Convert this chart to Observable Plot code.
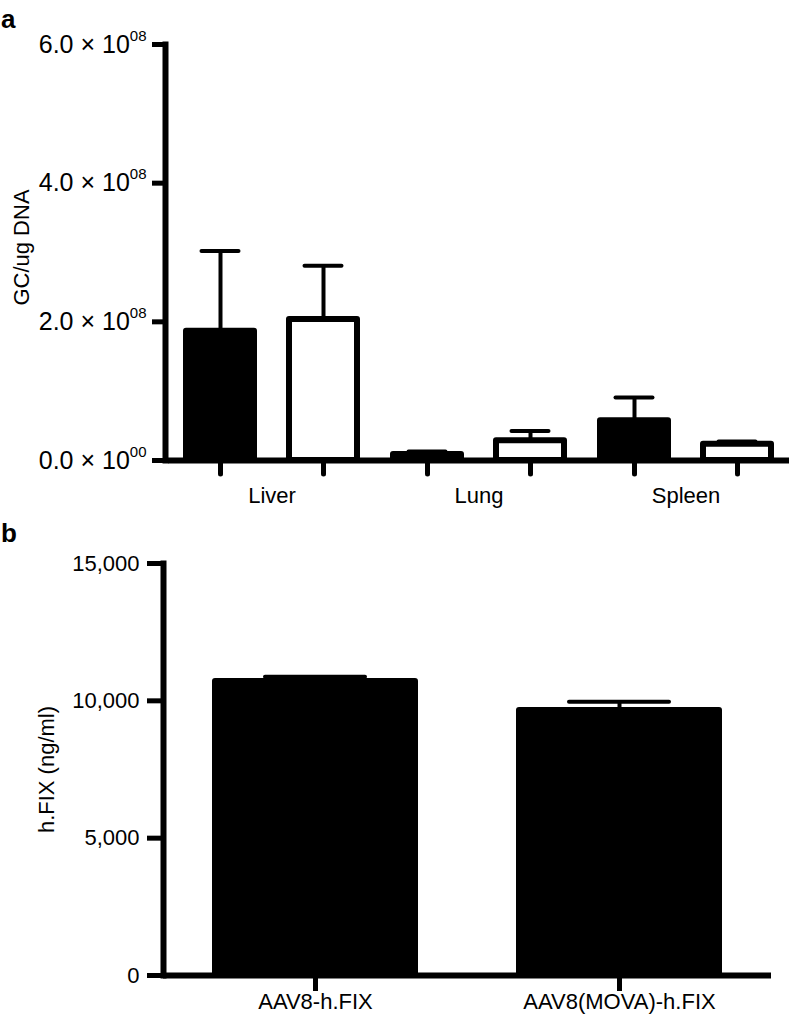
<!DOCTYPE html>
<html><head><meta charset="utf-8">
<script src="https://cdn.jsdelivr.net/npm/d3@7"></script>
<script src="https://cdn.jsdelivr.net/npm/@observablehq/plot@0.6"></script>
<style>
html,body{margin:0;padding:0;background:#fff;overflow:hidden;}
#wrap{position:relative;width:789px;height:1023px;overflow:hidden;font-family:"Liberation Sans",Arial,Helvetica,sans-serif;}
.panel{position:absolute;font-weight:bold;font-size:26px;line-height:26px;}
svg{display:block}
</style></head><body>
<div id="wrap">
<div id="a"></div><div id="b"></div>
<div class="panel" style="left:1px;top:6px">a</div>
<div class="panel" style="left:1px;top:520px">b</div>
</div>
<script>
// ---- data ----
const organs = ["Liver", "Lung", "Spleen"];
const vectors = ["AAV8-h.FIX", "AAV8(MOVA)-h.FIX"];
// panel a: GC/ug DNA (mean and SEM)
const gcMeanAAV8 = [1.865e8, 8.7e6, 5.73e7];
const gcSemAAV8  = [1.155e8, 4.3e6, 3.36e7];
const gcMeanMOVA = [2.034e8, 2.84e7, 2.35e7];
const gcSemMOVA  = [0.776e8, 1.41e7, 3.9e6];
const yTicksA = [0, 2e8, 4e8, 6e8];
const yTickLabelsA = ["0.0 × 10^00", "2.0 × 10^08", "4.0 × 10^08", "6.0 × 10^08"];
// panel b: h.FIX (ng/ml)
const fixMean = [10700, 9650];
const fixSem  = [175, 320];
const yTicksB = [0, 5000, 10000, 15000];

const FONT = "Liberation Sans, Arial, Helvetica, sans-serif";

const rowsA = [];
organs.forEach((o, i) => {
  rowsA.push({organ: o, vector: vectors[0], mean: gcMeanAAV8[i], sem: gcSemAAV8[i]});
  rowsA.push({organ: o, vector: vectors[1], mean: gcMeanMOVA[i], sem: gcSemMOVA[i]});
});
const rowsB = vectors.map((v, i) => ({vector: v, mean: fixMean[i], sem: fixSem[i]}));

const plotA = Plot.plot({
  width: 789, height: 510,
  marginLeft: 168, marginRight: 0, marginTop: 44, marginBottom: 50,
  style: {fontFamily: FONT, background: "white", color: "black", overflow: "visible"},
  fx: {domain: organs, padding: 0, label: null},
  x: {domain: vectors, paddingInner: 0.342, paddingOuter: 0.171, label: null},
  y: {domain: [0, 6e8], label: null},
  color: {domain: vectors, range: ["black", "white"]},
  marks: [
    Plot.barY(rowsA, {fx: "organ", x: "vector", y: "mean", fill: "vector", stroke: "black", strokeWidth: 6, strokeLinejoin: "round"}),
    Plot.ruleX(rowsA, {fx: "organ", x: "vector", y1: "mean", y2: d => d.mean + d.sem, stroke: "black", strokeWidth: 4}),
    Plot.tickY(rowsA, {fx: "organ", x: "vector", y: d => d.mean + d.sem, stroke: "black", strokeWidth: 4, strokeLinecap: "round", insetLeft: 15.5, insetRight: 15.5}),
    Plot.ruleY([0], {stroke: "black", strokeWidth: 6}),
    Plot.frame({anchor: "left", stroke: "black", strokeWidth: 6, facetAnchor: "left", dx: -3}),
    Plot.axisY({ticks: yTicksA, tickFormat: d => yTickLabelsA[yTicksA.indexOf(d)], tickSize: 13, tickPadding: 6, stroke: "black", strokeWidth: 5, fontSize: 25, label: null, dx: -3}),
    Plot.axisX({tickSize: 14, stroke: "black", strokeWidth: 5, strokeLinecap: "round", tickFormat: () => "", label: null}),
    Plot.axisFx({anchor: "bottom", tickSize: 0, tickPadding: 27, fontSize: 22, label: null}),
    Plot.text(["GC/ug DNA"], {text: d => d, frameAnchor: "left", textAnchor: "middle", rotate: -90, dx: -147, dy: -5, fontSize: 22, fill: "black", facetAnchor: "left"})
  ]
});
document.getElementById("a").appendChild(plotA);

// superscript exponents for panel a tick labels
d3.select(plotA).selectAll('g[aria-label="y-axis tick label"] text').each(function () {
  const s = this.textContent;
  if (!s.includes("^")) return;
  const [m, e] = s.split("^");
  const t = d3.select(this);
  t.text(null);
  t.append("tspan").text(m);
  t.append("tspan").attr("dy", -12).attr("font-size", "15px").text(e);
});

const plotB = Plot.plot({
  width: 789, height: 513,
  marginLeft: 163, marginRight: 18, marginTop: 53, marginBottom: 48,
  style: {fontFamily: FONT, background: "white", color: "black", overflow: "visible"},
  x: {domain: vectors, paddingInner: 0.342, paddingOuter: 0.171, label: null},
  y: {domain: [0, 15000], label: null},
  marks: [
    Plot.barY(rowsB, {x: "vector", y: "mean", fill: "black", stroke: "black", strokeWidth: 6, strokeLinejoin: "round"}),
    Plot.ruleX(rowsB, {x: "vector", y1: "mean", y2: d => d.mean + d.sem, stroke: "black", strokeWidth: 4}),
    Plot.tickY(rowsB, {x: "vector", y: d => d.mean + d.sem, stroke: "black", strokeWidth: 4, strokeLinecap: "round", insetLeft: 50, insetRight: 50}),
    Plot.ruleY([0], {stroke: "black", strokeWidth: 6}),
    Plot.frame({anchor: "left", stroke: "black", strokeWidth: 6}),
    Plot.axisY({ticks: yTicksB, tickFormat: d3.format(","), tickSize: 16, tickPadding: 8, stroke: "black", strokeWidth: 5, fontSize: 22, label: null}),
    Plot.axisX({tickSize: 16, tickPadding: 2, stroke: "black", strokeWidth: 5, fontSize: 22, label: null}),
    Plot.text(["h.FIX (ng/ml)"], {text: d => d, frameAnchor: "left", textAnchor: "middle", rotate: -90, dx: -117, fontSize: 22, fill: "black"})
  ]
});
document.getElementById("b").appendChild(plotB);
</script>
</body></html>
